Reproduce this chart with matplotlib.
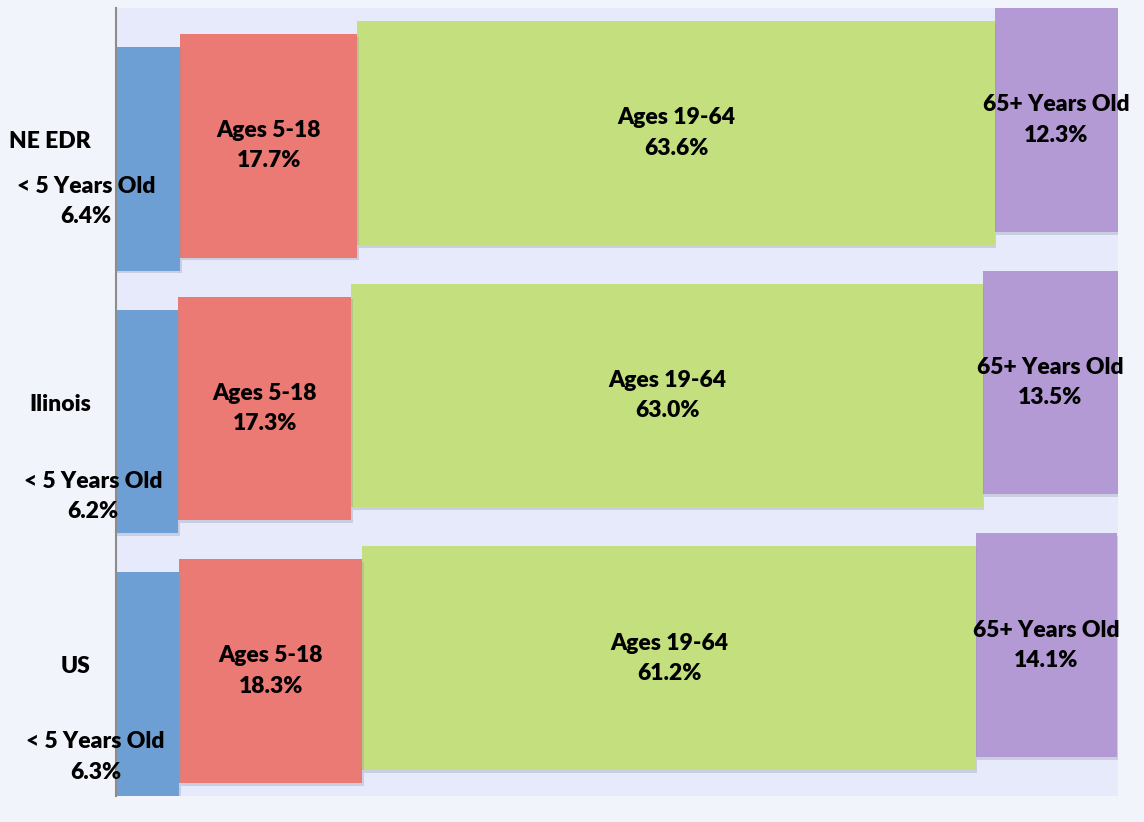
import matplotlib.pyplot as plt
import matplotlib.patheffects as pe
import numpy as np

plt.rcParams['font.family'] = ['Lato', 'DejaVu Sans']

regions = ['NE EDR', 'Ilinois', 'US']
groups = ['< 5 Years Old', 'Ages 5-18', 'Ages 19-64', '65+ Years Old']
under5 = [6.4, 6.2, 6.3]
age5_18 = [17.7, 17.3, 18.3]
age19_64 = [63.6, 63.0, 61.2]
age65 = [12.3, 13.5, 14.1]
colors = ['#6d9fd4', '#ec7a74', '#c4e07e', '#b39ad5']

series = [under5, age5_18, age19_64, age65]
fs = 16.5
fw = 'heavy'
ls = 1.55

fig = plt.figure(figsize=(11.44, 8.22), dpi=100, facecolor='#f2f4fc')
ax = fig.add_axes([116 / 1144, 1 - 796 / 822, 1002 / 1144, 788 / 822])
ax.set_facecolor('#e6eafa')

y = np.arange(len(regions))
height = 0.852
shift = 0.0494  # each segment sits a bit higher (3D look)
shadow = [pe.SimplePatchShadow(offset=(1, -2), shadow_rgbFace='#8a8fa8', alpha=0.3), pe.Normal()]

left = np.zeros(len(regions))
bars = []
for i, vals in enumerate(series):
    off = (i - 1.5) * shift
    b = ax.barh(y - off, vals, height=height, left=left, color=colors[i],
                edgecolor='none', zorder=3 - i * 0.1)
    for p in b:
        p.set_path_effects(shadow)
    bars.append(b)
    left = left + np.array(vals)

# labels for the three wider segments, centred in the bar
for i in range(1, 4):
    for j, p in enumerate(bars[i]):
        cx = p.get_x() + p.get_width() / 2
        cy = p.get_y() + p.get_height() / 2
        ax.text(cx, cy, '%s\n%.1f%%' % (groups[i], series[i][j]),
                ha='center', va='center', fontsize=fs, fontweight=fw,
                linespacing=ls, zorder=10)

# the "< 5" labels were dragged off to the left in the original
blue_off = [(-62, -43), (-54, -75), (-52, -73)]
for j, p in enumerate(bars[0]):
    cx = p.get_x() + p.get_width() / 2
    cy = p.get_y() + p.get_height() / 2
    ax.annotate('%s\n%.1f%%' % (groups[0], under5[j]), (cx, cy),
                xytext=(blue_off[j][0] * 0.72, blue_off[j][1] * 0.72),
                textcoords='offset points', ha='center', va='center',
                fontsize=fs, fontweight=fw, linespacing=ls,
                annotation_clip=False, zorder=10)

ax.set_xlim(0, 100)
ax.set_ylim(2.5, -0.5)
ax.set_yticks(y)
ax.set_yticklabels(regions, fontsize=fs, fontweight=fw)
ax.tick_params(axis='y', length=0, pad=18)
ax.set_xticks([])
for s in ['top', 'right', 'bottom']:
    ax.spines[s].set_visible(False)
ax.spines['left'].set_color('#8c8c8c')
ax.spines['left'].set_linewidth(1.5)
ax.spines['left'].set_zorder(5)

fig.savefig('out.png', dpi=100, facecolor=fig.get_facecolor())
